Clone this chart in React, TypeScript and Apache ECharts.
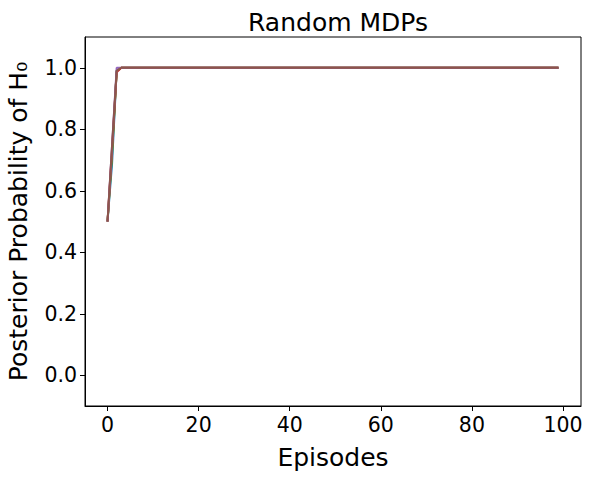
import React, { useEffect, useRef } from "react";
import * as echarts from "echarts";

// Episode index 0..99
const episodes: number[] = Array.from({ length: 100 }, (_, i) => i);

// Plateau value (all runs sit at 1.0 after episode ~3)
const PLATEAU = 1.0;
const plateau = (n: number) => new Array(n).fill(PLATEAU);

const runBlue = [0.5, 0.69, 0.99, 1.0, ...plateau(96)];
const runOrange = [0.5, 0.73, 0.99, 1.0, ...plateau(96)];
const runGreen = [0.5, 0.72, 0.99, 1.0, ...plateau(96)];
const runRed = [0.5, 0.74, 0.985, 1.0, ...plateau(96)];
const runPurple = [0.5, 0.75, 1.0, 1.0, ...plateau(96)];
const runBrown = [0.5, 0.75, 0.99, 1.0, ...plateau(96)];

const xTicks = [0, 20, 40, 60, 80, 100];
const yTicks = [0, 0.2, 0.4, 0.6, 0.8, 1.0];

const runs = [
  { name: "run1", color: "#1f77b4", data: runBlue },
  { name: "run2", color: "#ff7f0e", data: runOrange },
  { name: "run3", color: "#2ca02c", data: runGreen },
  { name: "run4", color: "#d62728", data: runRed },
  { name: "run5", color: "#9467bd", data: runPurple },
  { name: "run6", color: "#8c564b", data: runBrown },
];

export default function App() {
  const ref = useRef<HTMLDivElement>(null);
  useEffect(() => {
    document.body.style.margin = "0";
    if (!ref.current) return;
    const chart = echarts.init(ref.current, null, { renderer: "svg" });
    const font = "DejaVu Sans";
    chart.setOption({
      animation: false,
      backgroundColor: "#ffffff",
      title: {
        text: "Random MDPs",
        left: 333,
        top: 5,
        textAlign: "center",
        textStyle: { fontFamily: font, fontSize: 25, fontWeight: "normal", color: "#000" },
      },
      grid: {
        left: 85,
        right: 12,
        top: 37,
        bottom: 73,
        containLabel: false,
        outerBoundsMode: "none",
        show: true,
        borderColor: "#000",
        borderWidth: 1,
        backgroundColor: "transparent",
      },
      xAxis: {
        type: "value",
        min: -4.95,
        max: 103.95,
        name: "Episodes",
        nameLocation: "middle",
        nameGap: 39,
        nameTextStyle: { fontFamily: font, fontSize: 25, color: "#000" },
        axisLine: { show: true, onZero: false, lineStyle: { color: "#000", width: 1 } },
        axisTick: { show: true, length: 5, lineStyle: { color: "#000" }, customValues: xTicks },
        axisLabel: {
          fontFamily: font,
          fontSize: 20.5,
          color: "#000",
          margin: 8,
          customValues: xTicks,
          formatter: (v: number) => String(v),
        },
        splitLine: { show: false },
      },
      yAxis: {
        type: "value",
        min: -0.1,
        max: 1.1,
        name: "Posterior Probability of H\u2080",
        nameLocation: "middle",
        nameGap: 54,
        nameRotate: 90,
        nameTextStyle: { fontFamily: font, fontSize: 25, color: "#000" },
        axisLine: { show: true, onZero: false, lineStyle: { color: "#000", width: 1 } },
        axisTick: { show: true, length: 5, lineStyle: { color: "#000" }, customValues: yTicks },
        axisLabel: {
          fontFamily: font,
          fontSize: 20.5,
          color: "#000",
          margin: 8,
          customValues: yTicks,
          formatter: (v: number) => v.toFixed(1),
        },
        splitLine: { show: false },
      },
      series: runs.map((r) => ({
        name: r.name,
        type: "line",
        data: episodes.map((e, i) => [e, r.data[i]]),
        showSymbol: false,
        symbol: "none",
        lineStyle: { color: r.color, width: 2 },
        itemStyle: { color: r.color },
      })),
    });
    return () => chart.dispose();
  }, []);
  return <div ref={ref} style={{ width: 593, height: 479 }} />;
}
